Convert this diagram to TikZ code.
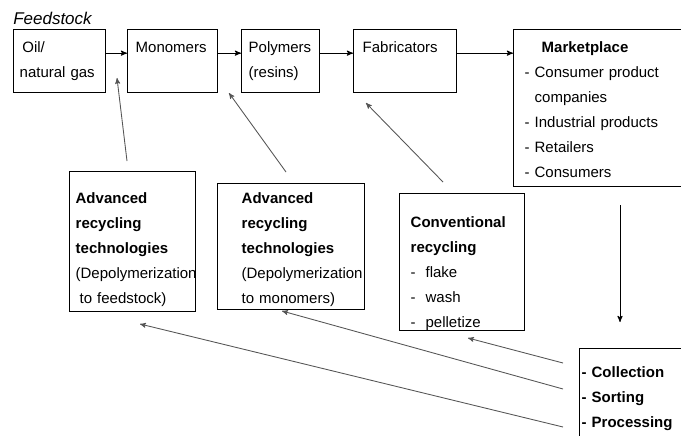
\documentclass[tikz,border=0pt]{standalone}
\usepackage{fontspec}
\setmainfont{Liberation Sans}
\usetikzlibrary{arrows}
\hyphenpenalty=10000

\begin{document}
\begin{tikzpicture}[->,>=stealth',x=0.75pt,y=-0.75pt,
	box/.style={draw,line width=1pt,anchor=north west,inner ysep=0pt,align=left,
		font=\fontsize{11.25pt}{18.75pt}\selectfont},
	flow/.style={line width=0.7pt},
	rec/.style={line width=0.65pt,draw=recgray}]
	
	\definecolor{recgray}{RGB}{85,85,85}
	
	\useasboundingbox (0,0) rectangle (681,435);
	\clip (0,0) rectangle (681,435);
	
	\node[anchor=base west,inner sep=0pt,font=\fontsize{12.75pt}{14pt}\selectfont\itshape] (feed) at (13,24.5) {Feedstock};
	
	% main chain
	\node[box,inner xsep=4.5pt,text width=60pt,text height=17.25pt,text depth=30pt] (oil) at (13,29) {\hspace*{2pt}Oil/\\natural gas};
	\node[box,inner xsep=6pt,text width=55.5pt,text height=17.25pt,text depth=30pt] (mono) at (127,29) {Monomers};
	\node[box,inner xsep=5.25pt,text width=48pt,text height=17.25pt,text depth=30pt] (poly) at (241,29) {Polymers\\(resins)};
	\node[box,inner xsep=6.75pt,text width=63.75pt,text height=17.25pt,text depth=30pt] (fab) at (353,29) {Fabricators};
	\node[box,inner xsep=8.25pt,text width=133.5pt,text height=17.25pt,text depth=100.5pt] (market) at (513,29)
		{\hspace*{12.75pt}\textbf{Marketplace}\\- Consumer product\\\phantom{- }companies\\- Industrial products\\- Retailers\\- Consumers};
	
	% recycling routes
	\node[box,inner xsep=4.5pt,text width=85.5pt,text height=24pt,text depth=81pt] (advfeed) at (69,171)
		{\textbf{Advanced}\\\textbf{recycling}\\\textbf{technologies}\\(Depolymerization\\\hspace*{3pt}to feedstock)};
	\node[box,inner xsep=18pt,text width=74.25pt,text height=15pt,text depth=79.5pt] (advmono) at (217,183)
		{\textbf{Advanced}\\\textbf{recycling}\\\textbf{technologies}\\(Depolymerization\\to monomers)};
	\node[box,inner xsep=8.25pt,text width=77.25pt,text height=25.5pt,text depth=77.25pt] (conv) at (399,193)
		{\textbf{Conventional}\\\textbf{recycling}\\-\ \ flake\\-\ \ wash\\-\ \ pelletize};
	\node[box,inner xsep=1.5pt,text width=109.5pt,text height=21.75pt,text depth=90pt] (collect) at (579,348)
		{\textbf{- Collection}\\\textbf{- Sorting}\\\textbf{- Processing}};
	
	\coordinate (f1) at ([yshift=6pt]fab.east);
	\draw[flow] ([yshift=6pt]oil.east) -- ([yshift=6pt]mono.west);
	\draw[flow] ([yshift=6pt]mono.east) -- ([yshift=6pt]poly.west);
	\draw[flow] ([yshift=6pt]poly.east) -- ([yshift=6pt]fab.west);
	\draw[flow] (f1) -- (f1 -| market.west);
	
	\coordinate (down1) at (620,205);
	\coordinate (down2) at (620,322);
	\draw[flow] (down1) -- (down2);
	
	\coordinate (from1) at (127,161);
	\coordinate (to1) at (117,78);
	\coordinate (from2) at (286,172);
	\coordinate (to2) at (229,93);
	\coordinate (from3) at (443,182);
	\coordinate (to3) at (366,103);
	\coordinate (from4) at (563,363);
	\coordinate (to4) at (468,338);
	\coordinate (from5) at (563,389);
	\coordinate (to5) at (282,311);
	\coordinate (from6) at (563,427);
	\coordinate (to6) at (140,324);
	
	\path
	(from1) edge[rec] (to1)
	(from2) edge[rec] (to2)
	(from3) edge[rec] (to3)
	(from4) edge[rec] (to4)
	(from5) edge[rec] (to5)
	(from6) edge[rec] (to6);
\end{tikzpicture}
\end{document}
